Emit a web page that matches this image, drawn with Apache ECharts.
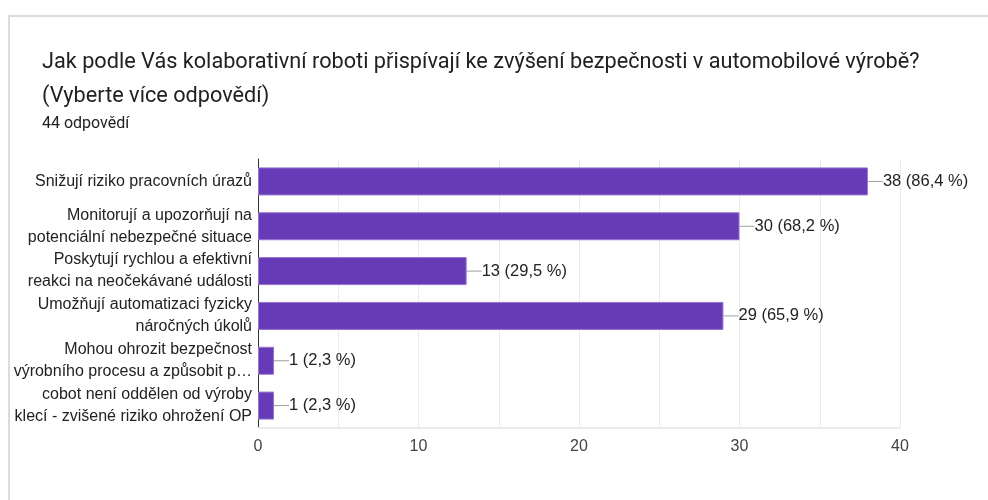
<!DOCTYPE html>
<html>
<head>
<meta charset="utf-8">
<style>
  html, body { margin: 0; padding: 0; background: #ffffff; }
  #card {
    position: absolute; left: 8px; top: 15px; width: 990px; height: 500px;
    border-left: 2px solid #dadce0; border-top: 2px solid #dadce0; box-sizing: border-box;
  }
  #chart { position: absolute; left: 0; top: 0; width: 988px; height: 500px; }
</style>
<script src="https://cdn.jsdelivr.net/npm/echarts@6/dist/echarts.min.js"></script>
</head>
<body>
<div id="card"></div>
<div id="chart"></div>
<script>
// Survey answers (multiple choice), number of respondents per answer
const categories = [
  'Snižují riziko pracovních úrazů',
  'Monitorují a upozorňují na\npotenciální nebezpečné situace',
  'Poskytují rychlou a efektivní\nreakci na neočekávané události',
  'Umožňují automatizaci fyzicky\nnáročných úkolů',
  'Mohou ohrozit bezpečnost\nvýrobního procesu a způsobit p…',
  'cobot není oddělen od výroby\nklecí - zvišené riziko ohrožení OP'
];
const counts = [38, 30, 13, 29, 1, 1];
const percents = ['86,4', '68,2', '29,5', '65,9', '2,3', '2,3'];
const totalResponses = 44;
const xTicks = [0, 10, 20, 30, 40];

const chart = echarts.init(document.getElementById('chart'), null, { renderer: 'canvas' });

chart.setOption({
  animation: false,
  backgroundColor: 'transparent',
  title: [
    {
      text: 'Jak podle Vás kolaborativní roboti přispívají ke zvýšení bezpečnosti v automobilové výrobě?\n(Vyberte více odpovědí)',
      left: 37, top: 41,
      textStyle: { fontFamily: 'Roboto', fontSize: 21.7, fontWeight: 'normal', color: '#202124', lineHeight: 34 }
    },
    {
      text: totalResponses + ' odpovědí',
      left: 37, top: 111,
      textStyle: { fontFamily: 'Roboto', fontSize: 16, fontWeight: 'normal', color: '#202124' }
    }
  ],
  grid: { left: 258, right: 88, top: 159, bottom: 72, containLabel: false },
  xAxis: {
    type: 'value', min: 0, max: 40, interval: 10,
    axisLine: { show: true, lineStyle: { color: '#ebebeb', width: 2 } },
    axisTick: { show: false },
    axisLabel: {
      color: '#444', fontFamily: 'Liberation Sans', fontSize: 16, margin: 11,
      formatter: v => xTicks.includes(v) ? String(v) : ''
    },
    splitLine: { show: true, lineStyle: { color: '#ebebeb', width: 1 } },
    minorTick: { show: false, splitNumber: 2 },
    minorSplitLine: { show: true, lineStyle: { color: '#ebebeb', width: 1 } }
  },
  yAxis: {
    type: 'category', inverse: true, data: categories,
    axisLine: { show: true, lineStyle: { color: '#333', width: 1 } },
    axisTick: { show: false },
    axisLabel: {
      color: '#222', fontFamily: 'Liberation Sans', fontSize: 16, lineHeight: 22, margin: 6, align: 'right'
    }
  },
  series: [{
    type: 'bar',
    data: counts,
    barWidth: 28,
    itemStyle: { color: '#673ab7', borderColor: '#9575cd', borderWidth: 1 },
    label: {
      show: true, position: 'right', distance: 0,
      formatter: p => '{l|}{t|' + counts[p.dataIndex] + ' (' + percents[p.dataIndex] + ' %)}',
      rich: {
        l: { width: 15, height: 1, backgroundColor: '#9e9e9e', verticalAlign: 'middle' },
        t: { color: '#222', fontFamily: 'Liberation Sans', fontSize: 16.5, verticalAlign: 'middle' }
      }
    }
  }]
});
</script>
</body>
</html>
